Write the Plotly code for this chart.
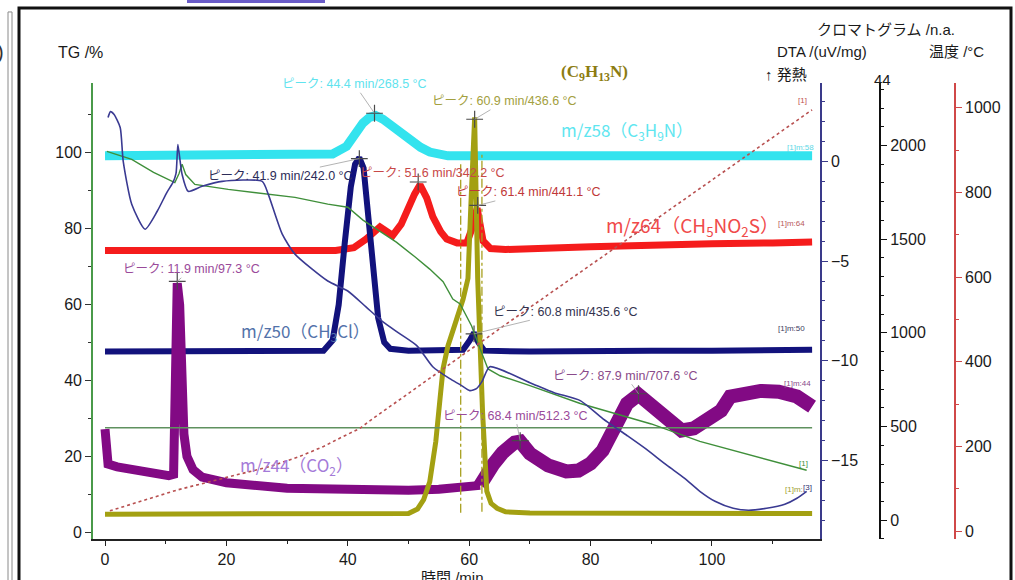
import plotly.graph_objects as go

# ---------------- data ----------------
# TG /%  (left green axis)
tg_time = [0.3, 4.4, 8, 11.5, 12.2, 12.7, 13.3, 14.8, 20.3, 26, 31.3, 36.7, 40, 42.5, 45, 48, 51,
           53.5, 55.7, 57.3, 58.5, 60.4, 61.8, 63.1, 65.1, 70, 78.3, 85, 90, 98, 105, 110, 115.6]
tg_value = [100.3, 98.2, 94.8, 92.1, 94.5, 96.9, 94.2, 91.6, 90.3, 89.2, 88.2, 86.4, 85.6, 82.2, 79.5,
            76.4, 72.6, 69.3, 66.0, 61.4, 60.1, 54.3, 48.3, 43.0, 41.2, 38.6, 33.9, 30.8, 28.5, 23.9,
            20.9, 18.9, 16.3]
tg_ref_time = [0, 116.5]
tg_ref_value = [27.5, 27.5]

# DTA /(uV/mg)
dta_time = [0.5, 0.9, 1.5, 2.5, 3.0, 4.4, 6.6, 8.6, 10.2, 11.2, 11.7, 12.0, 12.3, 12.7, 13.7, 16,
            19.3, 25.9, 26.9, 29.2, 31.3, 36.7, 40, 43, 45.8, 48.6, 51.4, 54, 56.8, 58.5, 60.1, 61.2,
            62.1, 63.4, 70, 74, 78.3, 82, 86, 89, 92.6, 95.5, 98, 100.5, 103.5, 106, 109, 112, 114, 115.6]
dta_value = [2.2, 2.5, 2.35, 1.7, 0.0, -2.15, -3.4, -2.5, -1.55, -1.05, -0.6, 0.85, 0.2, -0.65, -1.5,
             -1.25, -1.0, -1.0, -1.65, -3.65, -4.65, -6.0, -6.5, -7.3, -8.05, -8.65, -9.25, -10.3,
             -10.9, -11.2, -11.5, -11.4, -11.05, -10.3, -11.1, -11.6, -12.0, -12.9, -13.75, -14.4,
             -15.25, -15.9, -16.55, -17.05, -17.4, -17.5, -17.4, -17.2, -16.9, -16.55]

# Chromatograms /n.a.
m58_time = [0, 10, 20, 30, 35, 37.5, 39.8, 41.2, 42.5, 43.6, 44.6, 45.8, 47, 48.1, 49.5, 50.8, 52,
            53.5, 55, 56.5, 60, 70, 80, 90, 100, 110, 116.5]
m58_value = [1945, 1948, 1945, 1948, 1948, 1955, 1995, 2065, 2120, 2150, 2160, 2140, 2110, 2085, 2050,
             2016, 1990, 1965, 1952, 1945, 1945, 1945, 1948, 1945, 1948, 1945, 1945]

m64_time = [0, 20, 38, 41, 43, 45.3, 47.4, 48.8, 49.8, 51.0, 51.9, 53, 54, 55.3, 56.3, 58, 59.6, 60.5,
            61.3, 62.3, 63.5, 66, 80, 90, 100, 110, 116.5]
m64_value = [1440, 1440, 1440, 1455, 1500, 1565, 1520, 1580, 1660, 1740, 1790, 1720, 1620, 1540, 1500,
             1480, 1480, 1560, 1665, 1490, 1450, 1445, 1460, 1470, 1475, 1480, 1485]

m50_time = [0, 20, 36, 37.5, 38.5, 39.5, 40.5, 41.2, 41.9, 42.6, 43.3, 44, 45, 46, 47, 50, 55, 59,
            60.1, 60.8, 61.5, 62.5, 70, 80, 90, 100, 110, 116.5]
m50_value = [900, 900, 905, 960, 1150, 1480, 1780, 1900, 1935, 1880, 1650, 1350, 1080, 950, 915, 905,
             905, 910, 960, 1000, 950, 905, 900, 905, 905, 905, 905, 910]

m44_time = [0, 0.15, 0.5, 2, 5, 8, 10.5, 11.3, 11.6, 11.9, 12.3, 12.7, 13.0, 13.5, 14.5, 16, 20, 30,
            40, 50, 55, 58, 61.8, 62.5, 64, 65.5, 66.7, 67.5, 68.4, 70, 73, 76, 78, 80, 82, 84, 86,
            87.9, 90, 92.6, 95, 97, 100, 101.5, 103, 105, 108, 111, 114, 116.5]
m44_value = [486, 330, 300, 285, 265, 250, 238, 245, 900, 1265, 1150, 700, 460, 340, 270, 230, 200,
             170, 160, 160, 165, 175, 186, 230, 300, 360, 400, 415, 420, 356, 293, 260, 265, 303, 372,
             490, 622, 670, 606, 543, 479, 490, 553, 585, 660, 675, 690, 686, 660, 606]

c9_time = [0, 20, 40, 50, 51.5, 52.5, 53.5, 54.5, 55.2, 55.7, 56.5, 57.3, 58.2, 59.0, 59.8, 60.3,
           60.9, 61.4, 61.8, 62.2, 62.9, 63.6, 64.6, 66, 70, 80, 90, 100, 110, 116.5]
c9_value = [32, 34, 32, 36, 60, 110, 205, 420, 650, 810, 930, 1020, 1100, 1180, 1290, 1700, 2150,
            1290, 900, 580, 155, 90, 64, 45, 38, 36, 36, 36, 36, 36]
c9_marker_time = [58.6, 62.1]
c9_marker_value = [[40, 1900], [45, 1950]]

# Temperature /°C
temp_time = [0.8, 11.9, 20, 27, 32, 36, 39, 41.9, 44.4, 51.6, 60.9, 68.4, 87.9, 116.5]
temp_value = [48, 97.3, 127, 152, 176, 200, 222, 242.0, 268.5, 342.2, 436.6, 512.3, 707.6, 995]

# Peak picks (time, chromatogram value, label)
peak_time = [44.4, 60.9, 41.9, 51.6, 61.4, 11.9, 60.8, 87.9, 68.4]
peak_value = [2172, 2140, 1930, 1805, 1680, 1275, 995, 675, 425]
peak_label = ["ピーク: 44.4 min/268.5 °C", "ピーク: 60.9 min/436.6 °C", "ピーク: 41.9 min/242.0 °C",
              "ピーク: 51.6 min/342.2 °C", "ピーク: 61.4 min/441.1 °C", "ピーク: 11.9 min/97.3 °C",
              "ピーク: 60.8 min/435.6 °C", "ピーク: 87.9 min/707.6 °C", "ピーク: 68.4 min/512.3 °C"]

# ---------------- styling ----------------
W, H = 1015, 580
peak_color = ["#5fe3ee", "#a3a040", "#2c2c58", "#c84848", "#c03838", "#9a4a9a", "#33334f",
              "#8a4a8a", "#9a4a9a"]
peak_offset = [(-20, -29), (30, -18), (-79, 17), (14, -9), (51, -13), (14, -12), (91, -22),
               (-13, -18), (-5, -25)]

TICKFONT = dict(family="Liberation Sans, Arial", size=16, color="#1a1a1a")


def px(x):
    return x / W


def py(y):
    return 1 - y / H


fig = go.Figure()

# chromatograms on base axis y (drawn first / underneath)
fig.add_trace(go.Scatter(x=m58_time, y=m58_value, mode="lines", yaxis="y",
                         line=dict(color="#33e3ee", width=9)))
fig.add_trace(go.Scatter(x=m64_time, y=m64_value, mode="lines", yaxis="y",
                         line=dict(color="#f51c1c", width=7)))
fig.add_trace(go.Scatter(x=m50_time, y=m50_value, mode="lines", yaxis="y",
                         line=dict(color="#12127c", width=6)))
split = m44_time.index(61.8)
fig.add_trace(go.Scatter(x=m44_time[:split + 1], y=m44_value[:split + 1], mode="lines", yaxis="y",
                         line=dict(color="#820a84", width=9)))
fig.add_trace(go.Scatter(x=m44_time[split:], y=m44_value[split:], mode="lines", yaxis="y",
                         line=dict(color="#820a84", width=14)))
fig.add_trace(go.Scatter(x=c9_time, y=c9_value, mode="lines", yaxis="y",
                         line=dict(color="#a3a012", width=5)))
for t, v in zip(c9_marker_time, c9_marker_value):
    fig.add_trace(go.Scatter(x=[t, t], y=v, mode="lines", yaxis="y",
                             line=dict(color="#a8a020", width=1.3, dash="dashdot")))
fig.add_trace(go.Scatter(x=peak_time, y=peak_value, mode="markers", yaxis="y",
                         marker=dict(symbol="cross-thin", size=12,
                                     line=dict(width=1.2, color="#4a4a4a"))))

# TG
fig.add_trace(go.Scatter(x=tg_ref_time, y=tg_ref_value, mode="lines", yaxis="y2",
                         line=dict(color="#5f915f", width=1.4)))
fig.add_trace(go.Scatter(x=tg_time, y=tg_value, mode="lines", yaxis="y2",
                         line=dict(color="#3f8f3a", width=1.4)))
# DTA
fig.add_trace(go.Scatter(x=dta_time, y=dta_value, mode="lines", yaxis="y3", line_shape="spline",
                         line=dict(color="#3a3a92", width=1.6, smoothing=0.6)))
# temperature
fig.add_trace(go.Scatter(x=temp_time, y=temp_value, mode="lines", yaxis="y4",
                         line=dict(color="#b85050", width=1.6, dash="dot")))

annotations = []
for t, v, lab, c, (ax, ay) in zip(peak_time, peak_value, peak_label, peak_color, peak_offset):
    annotations.append(dict(x=t, y=v, xref="x", yref="y", text=lab, showarrow=True, arrowhead=0,
                            arrowwidth=0.8, arrowcolor="#a0a0a0", ax=ax, ay=ay, standoff=0,
                            font=dict(family="Liberation Sans, Noto Sans CJK JP", size=12.5,
                                      color=c)))


def txt(x, y, text, size=15, color="#1a1a1a", family="Liberation Sans, Noto Sans CJK JP",
        xanchor="center", **kw):
    annotations.append(dict(x=px(x), y=py(y), xref="paper", yref="paper", text=text,
                            showarrow=False, xanchor=xanchor, yanchor="middle",
                            font=dict(family=family, size=size, color=color), **kw))


# series labels
txt(627, 131, "m/z58（C<sub>3</sub>H<sub>9</sub>N）", 17, "#5ee6f0", "Noto Sans CJK JP")
txt(692, 227, "m/z64（CH<sub>5</sub>NO<sub>2</sub>S）", 19, "#f04a4a", "Noto Sans CJK JP")
txt(305, 333, "m/z50（CH<sub>3</sub>Cl）", 17, "#5272aa", "Noto Sans CJK JP")
txt(296, 467, "m/z44（CO<sub>2</sub>）", 17, "#a47ad8", "Noto Sans CJK JP")
txt(594, 73, "<b>(C<sub>9</sub>H<sub>13</sub>N)</b>", 17, "#8c7c12", "Liberation Serif, DejaVu Serif")

# trace end tags
txt(802, 101, "[1]", 8, "#c05050")
txt(800, 148, "[1]m:58", 8, "#60d8e6")
txt(791, 224, "[1]m:64", 8, "#b85a5a")
txt(791, 330, "[1]m:50", 8, "#404060")
txt(797, 385, "[1]m:44", 8, "#8a4a8a")
txt(803, 465, "[1]", 8, "#3f8f3a")
txt(794, 491, "[1]m:", 8, "#a0a030")
txt(807, 489, "[3]", 8, "#303070")

# axis titles
txt(80, 53, "TG /%", 16)
txt(886, 30, "クロマトグラム /n.a.", 15)
txt(822, 52, "DTA /(uV/mg)", 15)
txt(956, 52, "温度 /°C", 15)
txt(786, 75, "↑ 発熱", 15)
txt(882, 80, "44", 15)
txt(452, 579, "時間 /min", 15)
txt(6, 52, ")", 20, "#333", xanchor="right")

x0, x1 = 93 / W, 820 / W
y0, y1 = 39 / H, 497 / H

fig.update_layout(
    width=W, height=H, autosize=False,
    margin=dict(l=0, r=0, t=0, b=0, pad=0),
    paper_bgcolor="white", plot_bgcolor="white",
    showlegend=False,
    annotations=annotations,
    xaxis=dict(domain=[x0, x1], range=[-1.98, 117.8], dtick=20, tick0=0, showgrid=False,
               zeroline=False, showline=True, linecolor="#222", linewidth=1.6, ticks="outside",
               ticklen=5, tickcolor="#222", tickfont=TICKFONT, anchor="y2",
               minor=dict(dtick=10, ticks="outside", ticklen=3, tickcolor="#222")),
    yaxis=dict(domain=[y0, y1], range=[-101, 2335], anchor="free", position=880 / W, side="right",
               dtick=500, tick0=0, showgrid=False, zeroline=False, showline=True,
               linecolor="#111", linewidth=2, ticks="outside", ticklen=6, tickcolor="#111",
               tickfont=TICKFONT,
               minor=dict(dtick=100, ticks="outside", ticklen=3, tickcolor="#111")),
    yaxis2=dict(domain=[y0, y1], range=[-1.84, 118.4], overlaying="y", anchor="x", side="left",
                dtick=20, tick0=0, showgrid=False, zeroline=False, showline=True,
                linecolor="#4a9a4a", linewidth=1.6, ticks="outside", ticklen=6, tickcolor="#333",
                tickfont=TICKFONT,
                minor=dict(dtick=10, ticks="outside", ticklen=3, tickcolor="#333")),
    yaxis3=dict(domain=[y0, y1], range=[-18.95, 3.95], overlaying="y", anchor="x", side="right",
                dtick=5, tick0=0, showgrid=False, zeroline=False, showline=True,
                linecolor="#3a3a8a", linewidth=1.6, ticks="outside", ticklen=6,
                tickcolor="#3a3a8a", tickfont=TICKFONT,
                minor=dict(dtick=1, ticks="outside", ticklen=3, tickcolor="#3a3a8a")),
    yaxis4=dict(domain=[y0, y1], range=[-18.8, 1059], overlaying="y", anchor="free",
                position=955 / W, side="right", dtick=200, tick0=0, showgrid=False, zeroline=False,
                showline=True, linecolor="#d04848", linewidth=1.6, ticks="outside", ticklen=6,
                tickcolor="#d04848", tickfont=TICKFONT,
                minor=dict(dtick=100, ticks="outside", ticklen=3, tickcolor="#d04848")),
    shapes=[
        dict(type="rect", xref="paper", yref="paper", x0=px(19), x1=px(1011), y0=-0.05, y1=py(8),
             line=dict(color="#111", width=3), fillcolor="rgba(0,0,0,0)", layer="below"),
        dict(type="rect", xref="paper", yref="paper", x0=px(8), x1=px(12), y0=-0.05, y1=py(12),
             line=dict(color="#8a8a8a", width=1), fillcolor="rgba(0,0,0,0)", layer="below"),
        dict(type="rect", xref="paper", yref="paper", x0=px(187), x1=px(325), y0=py(3), y1=py(0),
             line=dict(width=0), fillcolor="#6a5cc8", layer="below"),
    ],
)

fig.write_html("out.html", config={"displayModeBar": False},
               post_script="document.body.style.margin='0';document.body.style.overflow='hidden';")
